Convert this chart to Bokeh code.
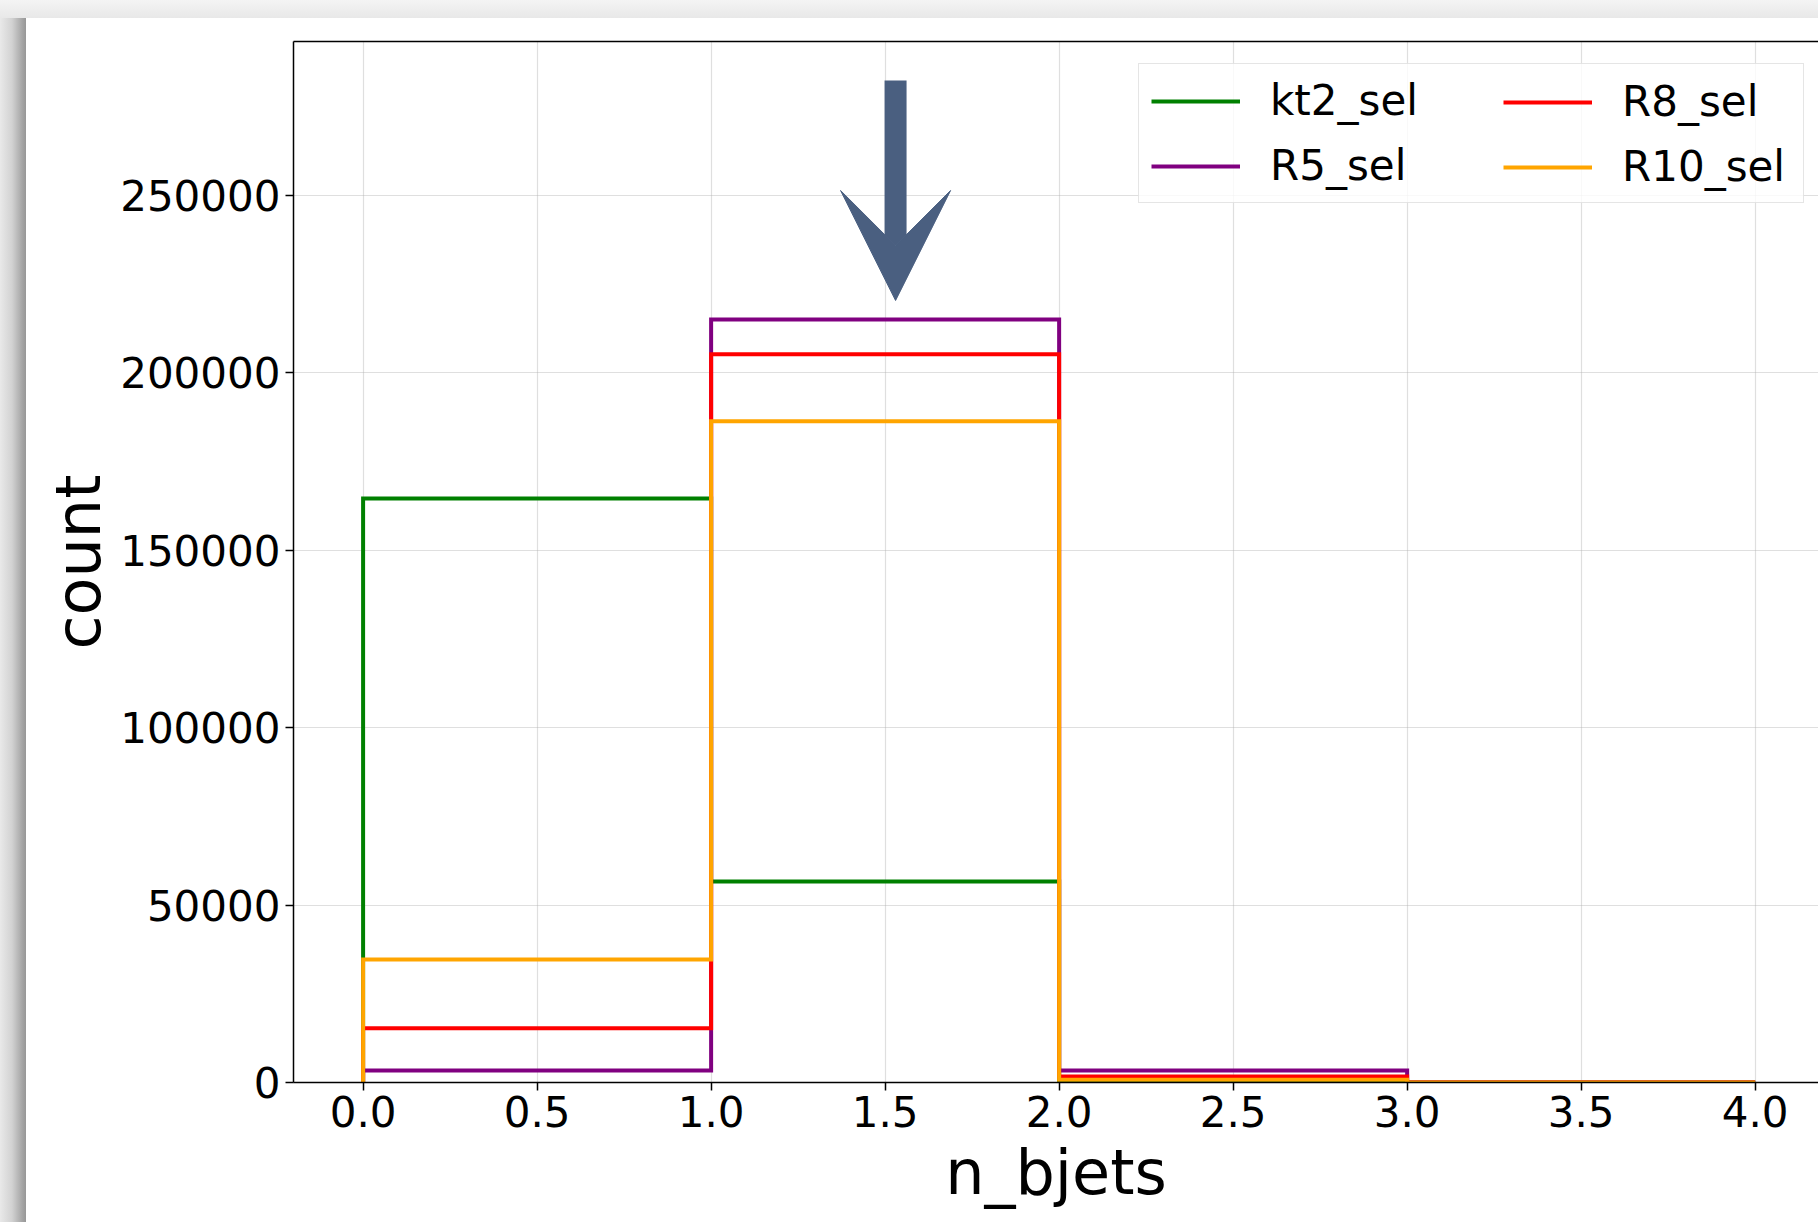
from bokeh.plotting import figure
from bokeh.models import (FixedTicker, PrintfTickFormatter, Legend, LegendItem,
                          LinearAxis, Arrow, VeeHead, Range1d)
from bokeh.embed import file_html
from bokeh.resources import INLINE

# ---------------- data ----------------
BIN_EDGES = [0, 1, 2, 3, 4]
SERIES = ["kt2_sel", "R5_sel", "R8_sel", "R10_sel"]
KT2_SEL = [164600, 56650, 200, 0]
R5_SEL = [3380, 215050, 3380, 0]
R8_SEL = [15300, 205270, 1690, 0]
R10_SEL = [34670, 186390, 800, 0]
COUNTS = [KT2_SEL, R5_SEL, R8_SEL, R10_SEL]
COLORS = ["green", "purple", "red", "orange"]
X_TICKS = [0.0, 0.5, 1.0, 1.5, 2.0, 2.5, 3.0, 3.5, 4.0]
Y_TICKS = [0, 50000, 100000, 150000, 200000, 250000]
X_LABEL = "n_bjets"
Y_LABEL = "count"

# annotation (hand-drawn arrow pointing at the n_bjets = 1 bin)
ARROW_X = 1.53
ARROW_Y_START = 282400
ARROW_Y_END = 220400
ARROW_COLOR = "#4a5f80"

FONT = "DejaVu Sans"


def step_path(edges, counts):
    xs, ys = [edges[0]], [0]
    for i, c in enumerate(counts):
        xs += [edges[i], edges[i + 1]]
        ys += [c, c]
    xs.append(edges[-1])
    ys.append(0)
    return xs, ys


BG = ("linear-gradient(to right, #e9e9e9 0px, #d2d2d2 12px, #a2a2a2 23px, #979797 26px) "
      "0 18px / 26px 100% no-repeat, "
      "linear-gradient(to bottom, #f4f4f4 0px, #e8e8e8 18px) 0 0 / 100% 18px no-repeat, "
      "#ffffff")

p = figure(width=1818, height=1222, output_backend="svg", toolbar_location=None,
           x_range=Range1d(-0.2, 4.182), y_range=Range1d(0, 293400),
           min_border_left=293, min_border_right=0, min_border_top=41,
           min_border_bottom=140, x_axis_label=X_LABEL, y_axis_label=Y_LABEL,
           styles={"background": BG})
p.border_fill_color = None
p.background_fill_color = "white"
p.outline_line_color = None

p.xaxis.ticker = FixedTicker(ticks=X_TICKS)
p.yaxis.ticker = FixedTicker(ticks=Y_TICKS)
p.xaxis.formatter = PrintfTickFormatter(format="%.1f")
p.yaxis.formatter = PrintfTickFormatter(format="%d")

for ax in (p.xaxis[0], p.yaxis[0]):
    ax.axis_line_width = 1.5
    ax.axis_line_color = "black"
    ax.major_tick_line_width = 1.5
    ax.major_tick_line_color = "black"
    ax.major_tick_out = 8
    ax.major_tick_in = 0
    ax.minor_tick_line_color = None
    ax.major_label_text_font = FONT
    ax.major_label_text_font_size = "42px"
    ax.major_label_text_color = "black"
    ax.axis_label_text_font = FONT
    ax.axis_label_text_font_size = "62px"
    ax.axis_label_text_font_style = "normal"
    ax.axis_label_text_color = "black"
p.xaxis.major_label_standoff = 5
p.xaxis.axis_label_standoff = 6
p.yaxis.major_label_standoff = 5
p.yaxis.axis_label_standoff = 2

top_axis = LinearAxis(ticker=FixedTicker(ticks=[]), axis_line_width=1.5,
                      axis_line_color="black", major_tick_out=0, major_tick_in=0,
                      minor_tick_out=0, minor_tick_in=0,
                      major_label_text_font_size="0px")
p.add_layout(top_axis, "above")

p.xgrid.ticker = FixedTicker(ticks=X_TICKS)
p.ygrid.ticker = FixedTicker(ticks=Y_TICKS)
p.grid.grid_line_color = "#b0b0b0"
p.grid.grid_line_alpha = 0.4
p.grid.grid_line_width = 1.2

renderers = []
for counts, color in zip(COUNTS, COLORS):
    xs, ys = step_path(BIN_EDGES, counts)
    r = p.line(xs, ys, line_color=color, line_width=4.0, line_join="miter")
    renderers.append(r)

common = dict(glyph_width=89, glyph_height=20, label_standoff=30, spacing=16,
              padding=12, margin=0, label_text_font=FONT, label_text_font_size="42px",
              label_text_color="black")

leg_a = Legend(items=[LegendItem(label=SERIES[0], renderers=[renderers[0]]),
                      LegendItem(label=SERIES[1], renderers=[renderers[1]])],
               location=(845, 879), label_width=521,
               border_line_color="#cccccc", border_line_width=1.5,
               background_fill_color="white", background_fill_alpha=0.8, **common)
leg_b = Legend(items=[LegendItem(label=SERIES[2], renderers=[renderers[2]]),
                      LegendItem(label=SERIES[3], renderers=[renderers[3]])],
               location=(1198, 879), label_width=165,
               border_line_alpha=0, background_fill_alpha=0, **common)
p.add_layout(leg_a)
p.add_layout(leg_b)

arrow = Arrow(end=VeeHead(size=110, fill_color=ARROW_COLOR, line_color=ARROW_COLOR,
                          line_width=1),
              x_start=ARROW_X, y_start=ARROW_Y_START, x_end=ARROW_X, y_end=ARROW_Y_END,
              line_color=ARROW_COLOR, line_width=22)
p.add_layout(arrow)

open("out.html", "w").write(file_html(p, INLINE))
